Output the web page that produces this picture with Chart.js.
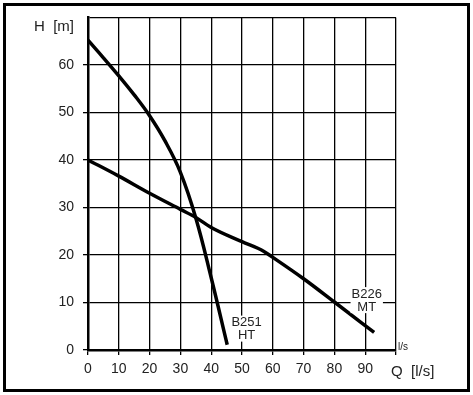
<!DOCTYPE html>
<html><head><meta charset="utf-8">
<script src="https://cdn.jsdelivr.net/npm/chart.js@4/dist/chart.umd.min.js"></script>
<style>html,body{margin:0;padding:0;background:#fff}#wrap{position:relative;width:473px;height:395px}canvas{display:block}</style>
</head><body><div id="wrap"><canvas id="c" width="473" height="395"></canvas></div>
<script>
// Data
const htQ = [0, 5, 10, 15, 20, 25, 30, 35, 40, 45.2];
const htH = [65.2, 61.5, 57.7, 53.7, 49.3, 44, 37.4, 27.8, 15.2, 1.1];
const mtQ = [0, 10, 20, 30, 35, 40, 50, 57, 60, 70, 80, 92.9];
const mtH = [40, 36.6, 33, 29.6, 27.9, 25.8, 22.8, 20.8, 19.5, 15, 10.1, 3.7];
const xTicks = [0, 10, 20, 30, 40, 50, 60, 70, 80, 90];
const yTicks = [0, 10, 20, 30, 40, 50, 60];
const seriesNames = ['B251 HT', 'B226 MT'];
const labelQ = [51.5, 90.5];
const labelH = [4.5, 10.5];
const yTitle = 'H  [m]';
const xTitle = 'Q  [l/s]';
const xUnit = 'l/s';

const toPts = (xs, ys) => xs.map((x, i) => ({x, y: ys[i]}));
const FONT = 'Arial, "Liberation Sans", sans-serif';

const deco = {
  id: 'deco',
  afterDraw(chart) {
    const ctx = chart.ctx, xs = chart.scales.x, ys = chart.scales.y;
    ctx.save();
    // outer frame
    ctx.strokeStyle = '#000'; ctx.lineWidth = 3;
    ctx.strokeRect(4.5, 4.5, 464, 386);
    // series labels with white boxes
    ctx.font = '13px ' + FONT;
    ctx.textAlign = 'center'; ctx.textBaseline = 'middle';
    seriesNames.forEach((n, i) => {
      const parts = n.split(' ');
      const cx = xs.getPixelForValue(labelQ[i]), cy = ys.getPixelForValue(labelH[i]);
      const w = Math.max(...parts.map(p => ctx.measureText(p).width)) + 2;
      ctx.fillStyle = '#fff';
      ctx.fillRect(cx - w / 2, cy - 13, w, 26);
      ctx.fillStyle = '#222';
      ctx.fillText(parts[0], cx, cy - 6);
      ctx.fillText(parts[1], cx, cy + 7);
    });
    // axis titles
    ctx.font = '15px ' + FONT;
    ctx.textAlign = 'right';
    ctx.fillText(yTitle, 74, ys.getPixelForValue(68));
    ctx.textAlign = 'left';
    ctx.fillText(xTitle, xs.right - 5, 372);
    ctx.font = '10px ' + FONT;
    ctx.fillText(xUnit, xs.right + 2, ys.bottom - 3);
    ctx.restore();
  }
};

new Chart(document.getElementById('c'), {
  type: 'line',
  data: {
    datasets: [
      {label: seriesNames[0], data: toPts(htQ, htH), tension: 0.4},
      {label: seriesNames[1], data: toPts(mtQ, mtH), cubicInterpolationMode: 'monotone'}
    ].map(d => Object.assign(d, {borderColor: '#000', borderWidth: 3.5, pointRadius: 0, fill: false}))
  },
  options: {
    responsive: false, animation: false,
    layout: {padding: {left: 0, right: 77, top: 16, bottom: 0}},
    plugins: {legend: {display: false}, tooltip: {enabled: false}},
    scales: {
      x: {
        type: 'linear', min: 0, max: 100,
        afterBuildTicks: s => { s.ticks = xTicks.concat([100]).map(v => ({value: v})); },
        afterFit: s => { s.height = 45; },
        ticks: {color: '#222', font: {size: 14, family: FONT}, padding: 6, maxRotation: 0,
                callback: v => xTicks.includes(v) ? String(v) : ''},
        grid: {color: '#000', lineWidth: 1.3, tickLength: 5},
        border: {color: '#000', width: 2.5}
      },
      y: {
        type: 'linear', min: 0, max: 70,
        afterBuildTicks: s => { s.ticks = yTicks.concat([70]).map(v => ({value: v})); },
        afterFit: s => { s.width = 88; },
        ticks: {color: '#222', font: {size: 14, family: FONT}, padding: 9,
                callback: v => yTicks.includes(v) ? String(v) : ''},
        grid: {color: '#000', lineWidth: 1.3, tickLength: 5, drawTicks: true,
               tickColor: c => (c.tick && c.tick.value === 70) ? 'rgba(0,0,0,0)' : '#000'},
        border: {color: '#000', width: 2.5}
      }
    }
  },
  plugins: [deco]
});
</script></body></html>
